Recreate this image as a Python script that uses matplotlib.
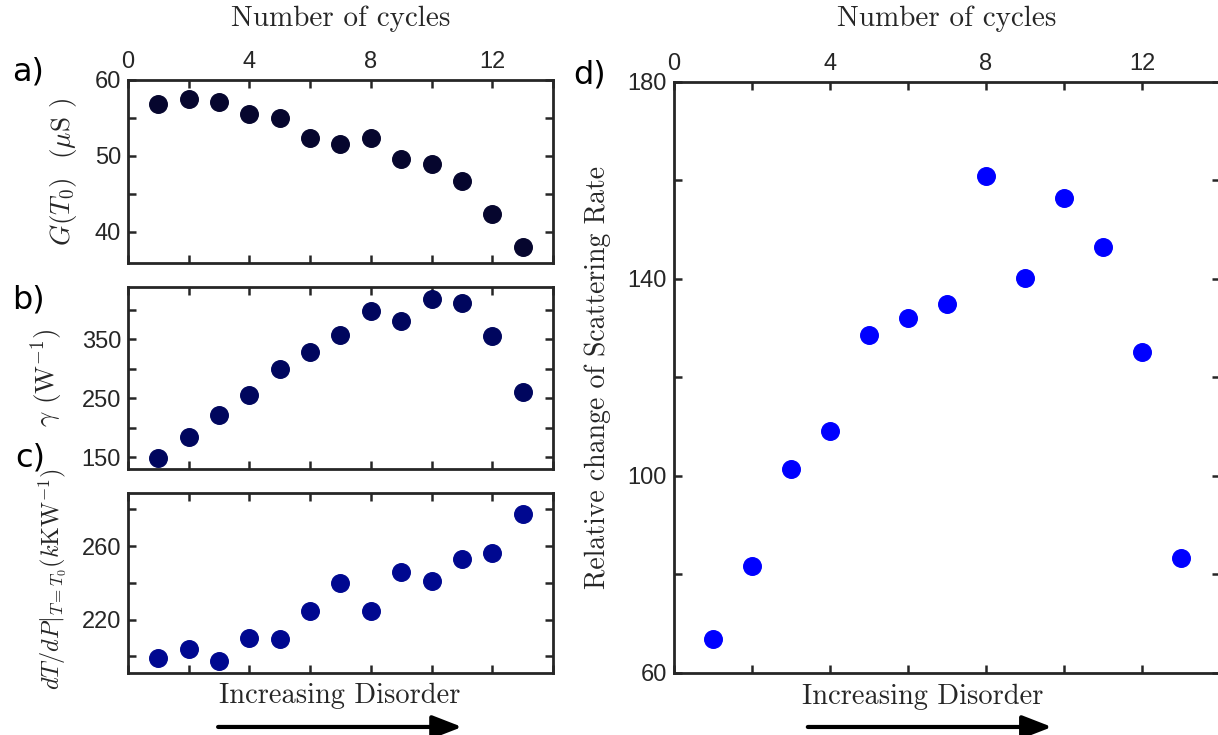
import matplotlib
matplotlib.use("Agg")
import matplotlib.pyplot as plt

# cycle number for every sample
cycles = [1, 2, 3, 4, 5, 6, 7, 8, 9, 10, 11, 12, 13]

# a) conductance G(T0) in uS
conductance = [56.8, 57.5, 57.1, 55.5, 55.0, 52.4, 51.6, 52.4, 49.6, 49.0, 46.7, 42.3, 38.0]
# b) gamma in 1/W
gamma = [148, 185, 222, 255, 299, 328, 358, 399, 382, 419, 412, 356, 260]
# c) dT/dP at T0 in kK/W
dtdp = [199.1, 204.0, 197.6, 210.0, 209.4, 225.0, 240.0, 224.7, 246.0, 241.2, 253.3, 256.4, 277.7]
# d) relative change of scattering rate
scatter_rate = [66.9, 81.7, 101.4, 109.1, 128.6, 132.1, 134.9, 160.9, 140.2, 156.4, 146.5, 125.2, 83.4]

x_ticks = [0, 2, 4, 6, 8, 10, 12, 14]
x_ticklabels = ["0", "", "4", "", "8", "", "12", ""]

INK = "#262626"
CM = "cmr10"
TICKFONT = "Liberation Sans"

plt.rcParams["mathtext.fontset"] = "cm"
plt.rcParams["axes.formatter.use_mathtext"] = False

fig = plt.figure(figsize=(12.18, 7.35), dpi=100)

ax_a = fig.add_axes([0.1051, 0.6422, 0.3489, 0.2490])
ax_b = fig.add_axes([0.1051, 0.3619, 0.3489, 0.2476])
ax_c = fig.add_axes([0.1051, 0.0844, 0.3489, 0.2449])
ax_d = fig.add_axes([0.5534, 0.0844, 0.4483, 0.8041])


def style(ax, yticks, ylabels, top_label_y=None):
    ax.set_xlim(0, 14)
    ax.set_xticks(x_ticks)
    ax.set_xticklabels(x_ticklabels)
    ax.set_yticks(yticks)
    ax.set_yticklabels(ylabels)
    ax.tick_params(direction="in", length=6, width=1.8, color=INK,
                   top=True, bottom=True, left=True, right=True,
                   labeltop=top_label_y is not None, labelbottom=False,
                   labelsize=17, labelcolor=INK, pad=5)
    for lab in ax.get_xticklabels() + ax.get_yticklabels():
        lab.set_fontfamily(TICKFONT)
    for sp in ax.spines.values():
        sp.set_linewidth(2.0)
        sp.set_color(INK)
    if top_label_y is not None:
        ax.xaxis.set_label_position("top")
        ax.set_xlabel("Number of cycles", fontfamily=CM, fontsize=21, color=INK)
        ax.xaxis.set_label_coords(0.5, top_label_y)


# a)
ax_a.scatter(cycles, conductance, s=160, color="#06062e", zorder=3)
ax_a.set_ylim(35.9, 60)
style(ax_a, [40, 45, 50, 55, 60], ["40", "", "50", "", "60"], top_label_y=1.295)
ax_a.set_ylabel(r"$G(T_0)$  ($\mu$S )", fontfamily=CM, fontsize=19.5, color=INK)
ax_a.yaxis.set_label_coords(-0.115, 0.5)

# b)
ax_b.scatter(cycles, gamma, s=160, color="#00065e", zorder=3)
ax_b.set_ylim(130, 439)
style(ax_b, [150, 200, 250, 300, 350, 400], ["150", "", "250", "", "350", ""])
ax_b.set_ylabel(r"$\gamma$ (W$^{-1}$)", fontfamily=CM, fontsize=19.5, color=INK)
ax_b.yaxis.set_label_coords(-0.148, 0.5)

# c)
ax_c.scatter(cycles, dtdp, s=160, color="#000890", zorder=3)
ax_c.set_ylim(191, 289)
style(ax_c, [200, 220, 240, 260, 280], ["", "220", "", "260", ""])
ax_c.set_ylabel(r"$dT/dP|_{T=T_0}(k$KW$^{-1}$)", fontfamily=CM, fontsize=17.5, color=INK)
ax_c.yaxis.set_label_coords(-0.141, 0.52)

# d)
ax_d.scatter(cycles, scatter_rate, s=160, color="#0000ff", zorder=3)
ax_d.set_ylim(60, 180)
style(ax_d, [60, 80, 100, 120, 140, 160, 180], ["60", "", "100", "", "140", "", "180"],
      top_label_y=1.0948)
ax_d.set_ylabel("Relative change of Scattering Rate", fontfamily=CM, fontsize=20, color=INK)
ax_d.yaxis.set_label_coords(-0.115, 0.5)

# panel letters
for txt, x, y in [("a)", 28, 72), ("b)", 28, 300), ("c)", 30, 458), ("d)", 590, 75)]:
    fig.text(x / 1218, 1 - y / 735, txt, fontsize=23, ha="center", va="center",
             fontfamily="DejaVu Sans", color="black")

# "Increasing Disorder" arrows
for ax, xt, yt, x0, x1, ya in [(ax_c, 0.499, -0.128, 0.212, 0.786, -0.30),
                               (ax_d, 0.456, -0.0406, 0.245, 0.692, -0.0914)]:
    ax.text(xt, yt, "Increasing Disorder", transform=ax.transAxes, ha="center",
            va="center", fontfamily=CM, fontsize=20.5, color=INK)
    ax.annotate("", xy=(x1, ya), xytext=(x0, ya), xycoords="axes fraction",
                annotation_clip=False,
                arrowprops=dict(arrowstyle="-|>,head_length=0.9,head_width=0.35",
                                lw=3, color="black", mutation_scale=20,
                                shrinkA=0, shrinkB=0))

fig.savefig("out.png", dpi=100)
